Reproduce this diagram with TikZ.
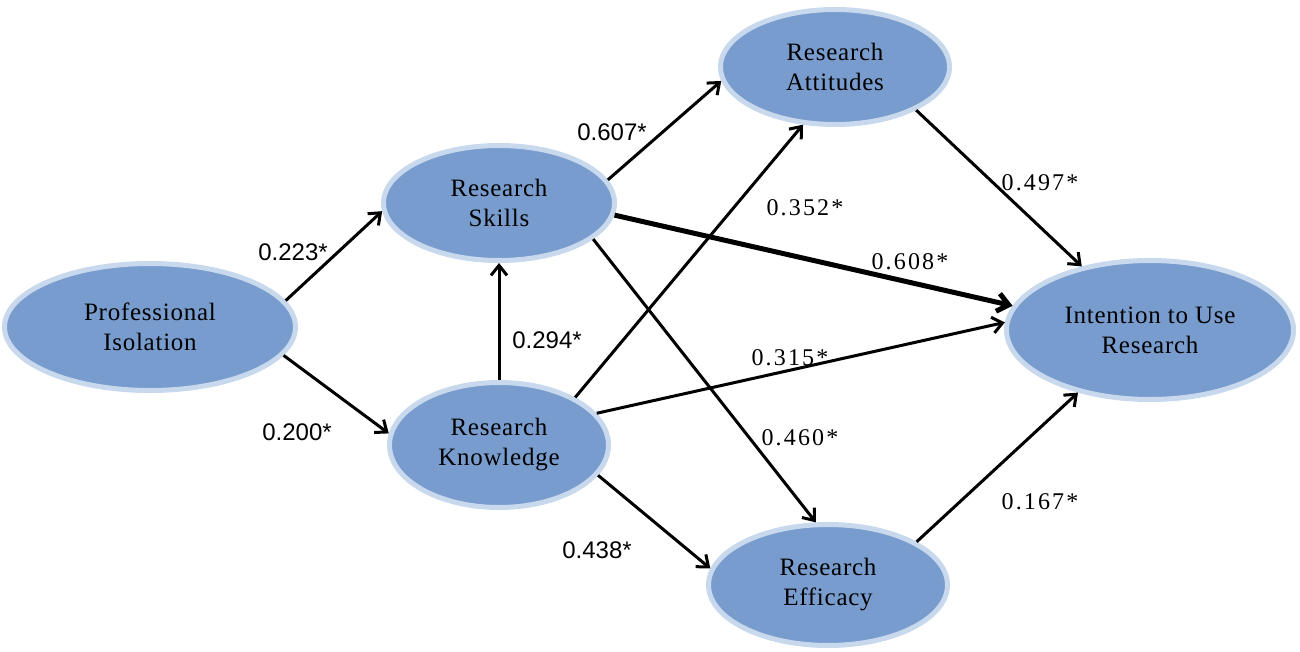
\documentclass[tikz,border=0pt]{standalone}
\usepackage{fontspec}
\setmainfont{Liberation Serif}
\newfontfamily\nodefont[LetterSpace=3]{Liberation Serif}
\newfontfamily\labsansfont{Liberation Sans}
\newfontfamily\labseriffont[LetterSpace=9]{Liberation Serif}
\usetikzlibrary{arrows.meta,shapes.geometric}
\definecolor{ellfill}{RGB}{120,156,205}
\definecolor{ellborder}{RGB}{200,217,238}
\begin{document}
\begin{tikzpicture}[x=1pt,y=-1pt,
  var/.style={ellipse, draw=ellborder, line width=5pt, fill=ellfill, inner sep=0pt, align=center,
    font=\nodefont\fontsize{25}{30}\selectfont},
  link/.style={line width=3pt, -{Straight Barb[length=10pt,width=16pt]}},
  heavylink/.style={line width=5pt, -{Straight Barb[length=11pt,width=18pt]}},
  labsans/.style={inner sep=0pt, font=\labsansfont\fontsize{24}{28}\selectfont},
  labserif/.style={inner sep=0pt, font=\labseriffont\fontsize{24}{28}\selectfont}
]
\useasboundingbox (0,0) rectangle (1300,652);
\node[var, minimum width=291pt, minimum height=127pt] (PI) at (150,327) {Professional\\Isolation};
\node[var, minimum width=231pt, minimum height=115pt] (RS) at (499,203) {Research\\Skills};
\node[var, minimum width=219pt, minimum height=125pt] (RK) at (499,445) {Research\\Knowledge};
\node[var, minimum width=229pt, minimum height=115pt] (RA) at (835,67) {Research\\Attitudes};
\node[var, minimum width=287pt, minimum height=139pt] (IU) at (1150,330) {Intention to Use\\Research};
\node[var, minimum width=239pt, minimum height=121pt] (RE) at (828,585) {Research\\Efficacy};

\draw[link] (PI.11) -- (RS.184);
\draw[link] (PI.-12) -- (RK.174);
\draw[link] (RK.north) -- (RS.south);
\draw[link] (RS.12) -- (RA.187);
\draw[link] (RK.32) -- (RA.-119);
\draw[heavylink] (RS.-6) -- (IU.170);
\draw[link] (RK.18) -- (IU.177);
\draw[link] (RS.-21) -- (RE.101);
\draw[link] (RK.-17) -- (RE.172);
\draw[link] (RA.-28) -- (IU.137);
\draw[link] (RE.26) -- (IU.221);

\node[labsans] (l1) at (293,252) {0.223*};
\node[labsans] (l2) at (297,432) {0.200*};
\node[labsans] (l3) at (547,340) {0.294*};
\node[labsans] (l4) at (612,132) {0.607*};
\node[labserif] (l5) at (805,208) {0.352*};
\node[labserif] (l6) at (910,262) {0.608*};
\node[labserif] (l7) at (790,358) {0.315*};
\node[labserif] (l8) at (800,438) {0.460*};
\node[labsans] (l9) at (597,550) {0.438*};
\node[labserif] (l10) at (1040,183) {0.497*};
\node[labserif] (l11) at (1040,502) {0.167*};
\end{tikzpicture}
\end{document}
